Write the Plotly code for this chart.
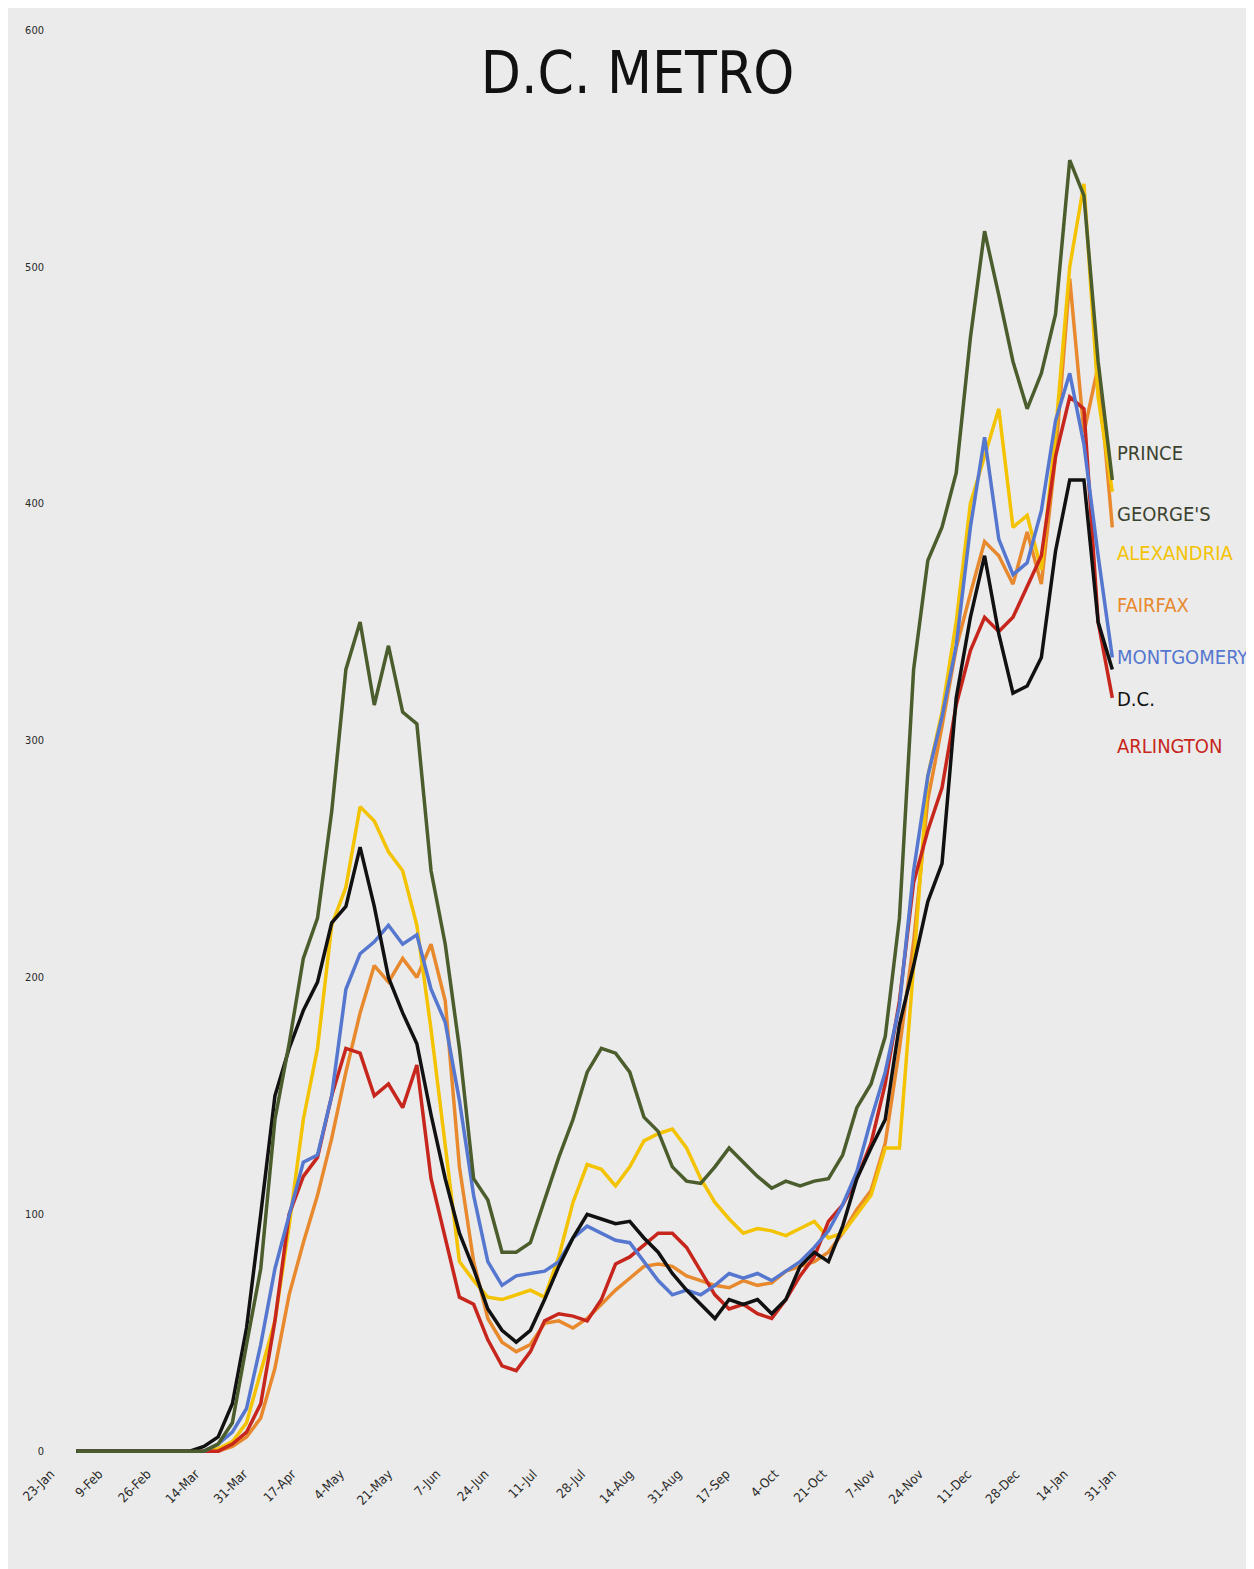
import pandas as pd
import plotly.graph_objects as go

# 5-day samples, 1 Feb 2020 .. 31 Jan 2021
dates = pd.date_range("2020-02-01", "2021-01-31", freq="5D")

prince_georges = [0, 0, 0, 0, 0, 0, 0, 0, 0, 0,
                  3, 12, 45, 77, 140, 172, 208, 225, 270, 330,
                  350, 315, 340, 312, 307, 245, 214, 170, 115, 106,
                  84, 84, 88, 106, 124, 140, 160, 170, 168, 160,
                  141, 135, 120, 114, 113, 120, 128, 122, 116, 111,
                  114, 112, 114, 115, 125, 145, 155, 175, 225, 330,
                  376, 390, 413, 470, 515, 488, 460, 440, 455, 480,
                  545, 530, 460, 410]
alexandria = [0, 0, 0, 0, 0, 0, 0, 0, 0, 0,
              1, 4, 12, 33, 55, 95, 140, 170, 222, 238,
              272, 266, 253, 245, 222, 178, 130, 80, 72, 65,
              64, 66, 68, 65, 82, 105, 121, 119, 112, 120,
              131, 134, 136, 128, 115, 105, 98, 92, 94, 93,
              91, 94, 97, 90, 92, 100, 108, 128, 128, 205,
              285, 312, 350, 400, 420, 440, 390, 395, 372, 430,
              500, 535, 445, 405]
fairfax = [0, 0, 0, 0, 0, 0, 0, 0, 0, 0,
           0, 2, 6, 14, 35, 66, 88, 108, 132, 160,
           185, 205, 198, 208, 200, 214, 190, 120, 80, 56,
           46, 42, 45, 54, 55, 52, 56, 62, 68, 73,
           78, 79, 78, 74, 72, 70, 69, 72, 70, 71,
           76, 78, 80, 84, 92, 102, 110, 130, 170, 215,
           275, 306, 339, 362, 384, 378, 366, 388, 366, 420,
           495, 430, 458, 390]
montgomery = [0, 0, 0, 0, 0, 0, 0, 0, 0, 0,
              3, 8, 18, 45, 77, 100, 122, 125, 150, 195,
              210, 215, 222, 214, 218, 195, 181, 148, 108, 80,
              70, 74, 75, 76, 80, 90, 95, 92, 89, 88,
              80, 72, 66, 68, 66, 70, 75, 73, 75, 72,
              76, 80, 86, 93, 104, 118, 140, 160, 188, 245,
              285, 310, 340, 390, 428, 385, 370, 375, 397, 435,
              455, 425, 378, 335]
dc = [0, 0, 0, 0, 0, 0, 0, 0, 0, 2,
      6, 20, 52, 100, 150, 170, 186, 198, 223, 230,
      255, 230, 200, 185, 172, 142, 115, 92, 77, 60,
      51, 46, 51, 64, 78, 90, 100, 98, 96, 97,
      90, 84, 75, 68, 62, 56, 64, 62, 64, 58,
      64, 78, 84, 80, 95, 115, 128, 140, 180, 205,
      232, 248, 318, 352, 378, 345, 320, 323, 335, 380,
      410, 410, 350, 330]
arlington = [0, 0, 0, 0, 0, 0, 0, 0, 0, 0,
             0, 3, 8, 20, 55, 100, 116, 124, 150, 170,
             168, 150, 155, 145, 163, 115, 90, 65, 62, 47,
             36, 34, 42, 55, 58, 57, 55, 64, 79, 82,
             87, 92, 92, 86, 76, 66, 60, 62, 58, 56,
             64, 74, 82, 97, 104, 115, 130, 155, 190, 240,
             262, 280, 315, 338, 352, 346, 352, 365, 378, 420,
             445, 440, 350, 318]

series = [
    ("FAIRFAX", fairfax, "#e8892e"),
    ("ALEXANDRIA", alexandria, "#f4c300"),
    ("ARLINGTON", arlington, "#c7261d"),
    ("MONTGOMERY", montgomery, "#5677cf"),
    ("D.C.", dc, "#111111"),
    ("PRINCE GEORGE'S", prince_georges, "#4b5d2c"),
]

NARROW = "DejaVu Sans Condensed, Liberation Sans Narrow, Roboto, sans-serif"

fig = go.Figure()
for name, vals, col in series:
    fig.add_trace(go.Scatter(x=dates, y=vals, name=name, mode="lines",
                             line=dict(color=col, width=3.5), showlegend=False))

# end labels stacked at the right
labels = [("PRINCE", "#3c4230", 0.699), ("GEORGE'S", "#3c4230", 0.657),
          ("ALEXANDRIA", "#f4c300", 0.630), ("FAIRFAX", "#e8892e", 0.594),
          ("MONTGOMERY", "#5677cf", 0.558), ("D.C.", "#111111", 0.529),
          ("ARLINGTON", "#c7261d", 0.496)]
for txt, col, yp in labels:
    fig.add_annotation(text=txt, xref="paper", yref="paper", x=0.997, y=yp,
                       xanchor="left", yanchor="middle", showarrow=False,
                       font=dict(family=NARROW, size=20, color=col))

fig.update_layout(
    width=1254, height=1569,
    margin=dict(l=37, r=144, t=10, b=114),
    paper_bgcolor="#ebebeb", plot_bgcolor="rgba(0,0,0,0)",
    title=dict(text="D.C. METRO", x=0.502, y=0.959, xanchor="center", yanchor="middle",
               font=dict(family=NARROW, size=58, color="#111111")),
    font=dict(family=NARROW, color="#2a2a2a"),
)
fig.update_xaxes(range=["2020-01-21", "2021-02-02"], tick0="2020-01-23",
                 dtick=17 * 86400000, tickformat="%-d-%b", tickangle=-45,
                 tickfont=dict(size=13), showgrid=False, zeroline=False, showline=False)
fig.update_yaxes(range=[-5, 605], dtick=100, tickfont=dict(size=11),
                 showgrid=False, zeroline=False, showline=False)

fig.write_html("out.html")
